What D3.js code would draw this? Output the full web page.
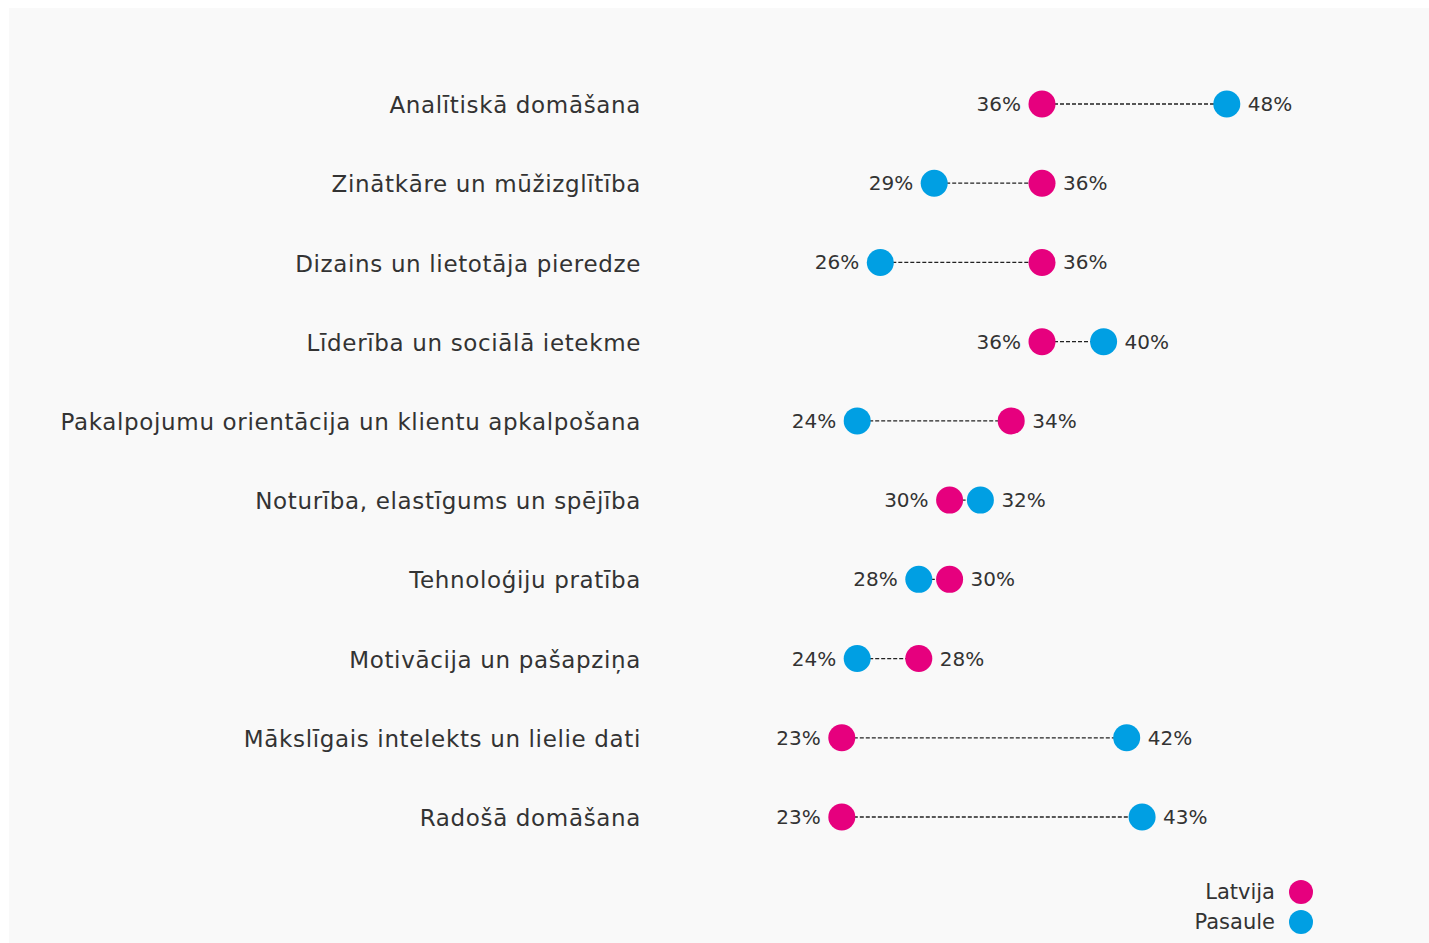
<!DOCTYPE html>
<html>
<head>
<meta charset="utf-8">
<script src="https://cdn.jsdelivr.net/npm/d3@7"></script>
<style>
  html, body { margin: 0; padding: 0; background: #fff; }
  svg { display: block; }
  text { font-family: "DejaVu Sans", sans-serif; }
</style>
</head>
<body>
<div id="chart"></div>
<script>
// chart data
const skills = [
  "Analītiskā domāšana",
  "Zinātkāre un mūžizglītība",
  "Dizains un lietotāja pieredze",
  "Līderība un sociālā ietekme",
  "Pakalpojumu orientācija un klientu apkalpošana",
  "Noturība, elastīgums un spējība",
  "Tehnoloģiju pratība",
  "Motivācija un pašapziņa",
  "Mākslīgais intelekts un lielie dati",
  "Radošā domāšana"
];
const latvija = [36, 36, 36, 36, 34, 30, 30, 28, 23, 23];
const pasaule = [48, 29, 25.5, 40, 24, 32, 28, 24, 41.5, 42.5];
const seriesNames = ["Latvija", "Pasaule"];
const seriesColors = ["#e6007e", "#009fe3"];

const width = 1429;
const height = 943;

const svg = d3.select("#chart")
  .append("svg")
  .attr("width", width)
  .attr("height", height);

// panel background
svg.append("rect")
  .attr("x", 9).attr("y", 8)
  .attr("width", width - 9).attr("height", height - 8)
  .attr("fill", "#f9f9f9");

const x = d3.scaleLinear().domain([0, 50]).range([487.6, 1257.6]);
const y = d3.scalePoint().domain(skills).range([104, 817]);

const rows = skills.map((s, i) => ({ skill: s, lv: latvija[i], pw: pasaule[i] }));

const row = svg.selectAll(".row")
  .data(rows)
  .enter()
  .append("g")
  .attr("class", "row")
  .attr("transform", d => `translate(0,${y(d.skill)})`);

// category labels
row.append("text")
  .attr("x", 641)
  .attr("y", 1)
  .attr("dy", "0.35em")
  .attr("text-anchor", "end")
  .attr("font-size", 23)
  .attr("letter-spacing", 0.65)
  .attr("fill", "#333")
  .text(d => d.skill);

// dashed connectors
row.append("line")
  .attr("x1", d => x(Math.min(d.lv, d.pw)))
  .attr("x2", d => x(Math.max(d.lv, d.pw)))
  .attr("stroke", "#222")
  .attr("stroke-width", 1.3)
  .attr("stroke-dasharray", "4,2");

// dots: Pasaule then Latvija
row.append("circle")
  .attr("cx", d => x(d.pw))
  .attr("r", 13.5)
  .attr("fill", seriesColors[1]);

row.append("circle")
  .attr("cx", d => x(d.lv))
  .attr("r", 13.5)
  .attr("fill", seriesColors[0]);

// value labels: lower value on the left, higher on the right
const fmt = v => Math.round(v) + "%";

row.append("text")
  .attr("x", d => x(Math.min(d.lv, d.pw)) - 21)
  .attr("dy", "0.35em")
  .attr("text-anchor", "end")
  .attr("font-size", 20)
  .attr("fill", "#333")
  .text(d => fmt(Math.min(d.lv, d.pw)));

row.append("text")
  .attr("x", d => x(Math.max(d.lv, d.pw)) + 21)
  .attr("dy", "0.35em")
  .attr("text-anchor", "start")
  .attr("font-size", 20)
  .attr("fill", "#333")
  .text(d => fmt(Math.max(d.lv, d.pw)));

// legend
const legend = svg.selectAll(".legend")
  .data(seriesNames)
  .enter()
  .append("g")
  .attr("class", "legend")
  .attr("transform", (d, i) => `translate(1301,${892 + i * 30})`);

legend.append("circle")
  .attr("r", 12)
  .attr("fill", (d, i) => seriesColors[i]);

legend.append("text")
  .attr("x", -26)
  .attr("dy", "0.35em")
  .attr("text-anchor", "end")
  .attr("font-size", 21)
  .attr("fill", "#333")
  .text(d => d);
</script>
</body>
</html>
